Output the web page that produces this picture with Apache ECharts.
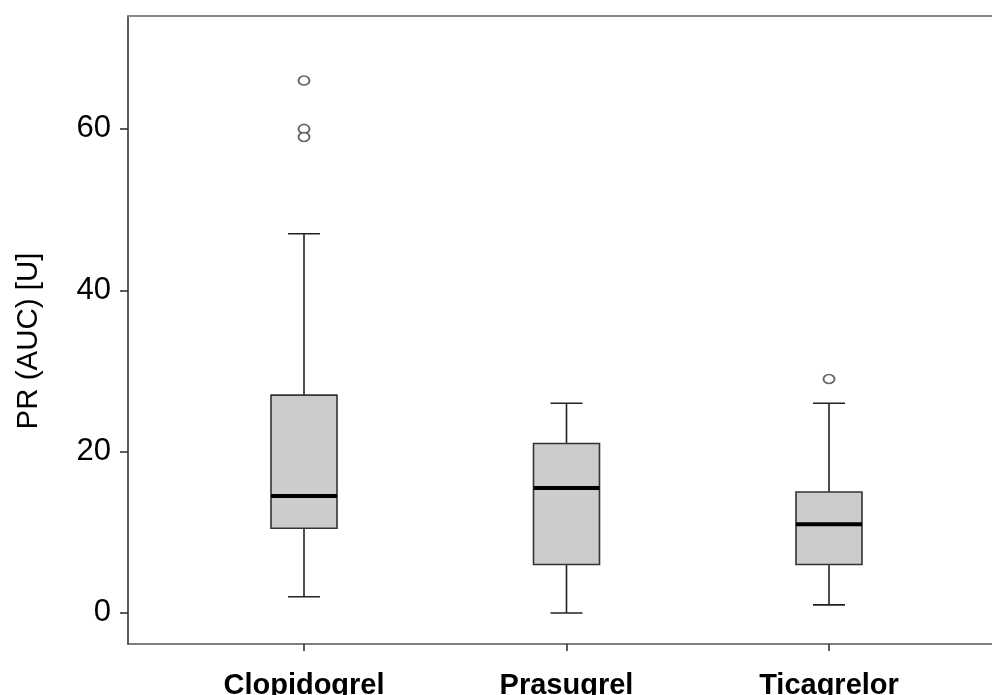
<!DOCTYPE html>
<html>
<head>
<meta charset="utf-8">
<script src="https://cdn.jsdelivr.net/npm/echarts@6/dist/echarts.min.js"></script>
<style>
  html, body { margin: 0; padding: 0; background: #fff; }
  #chart { width: 992px; height: 695px; }
</style>
</head>
<body>
<div id="chart"></div>
<script>
// Drug groups along the x axis
const categories = ['Clopidogrel', 'Prasugrel', 'Ticagrelor'];

// Box-plot summaries per group: [lower whisker, Q1, median, Q3, upper whisker]
const lowerWhisker = [2, 0, 1];
const quartile1   = [10.5, 6, 6];
const medians     = [14.5, 15.5, 11];
const quartile3   = [27, 21, 15];
const upperWhisker = [47, 26, 26];

// Outlying observations: group index (0-based) and value
const outlierGroup = [0, 0, 0, 2];
const outlierValue = [66, 60, 59, 29];

// Y axis tick values
const yTicks = [0, 20, 40, 60];

const font = '"Liberation Sans", Arial, Helvetica, sans-serif';

const boxData = categories.map((c, i) => [
  i + 1, lowerWhisker[i], quartile1[i], medians[i], quartile3[i], upperWhisker[i]
]);
const outlierData = outlierGroup.map((g, i) => [g + 1, outlierValue[i]]);

const BOX_W = 66;
const CAP_W = 32;

function renderBox(params, api) {
  const x = api.value(0);
  const pLow = api.coord([x, api.value(1)]);
  const pQ1 = api.coord([x, api.value(2)]);
  const pMed = api.coord([x, api.value(3)]);
  const pQ3 = api.coord([x, api.value(4)]);
  const pHigh = api.coord([x, api.value(5)]);
  const cx = pMed[0];
  const line = { stroke: '#222', lineWidth: 1.6 };
  return {
    type: 'group',
    children: [
      { type: 'line', shape: { x1: cx, y1: pQ3[1], x2: cx, y2: pHigh[1] }, style: line },
      { type: 'line', shape: { x1: cx, y1: pQ1[1], x2: cx, y2: pLow[1] }, style: line },
      { type: 'line', shape: { x1: cx - CAP_W / 2, y1: pHigh[1], x2: cx + CAP_W / 2, y2: pHigh[1] }, style: line },
      { type: 'line', shape: { x1: cx - CAP_W / 2, y1: pLow[1], x2: cx + CAP_W / 2, y2: pLow[1] }, style: line },
      {
        type: 'rect',
        shape: { x: cx - BOX_W / 2, y: pQ3[1], width: BOX_W, height: pQ1[1] - pQ3[1] },
        style: { fill: '#cccccc', stroke: '#333', lineWidth: 1.6 }
      },
      {
        type: 'line',
        shape: { x1: cx - BOX_W / 2, y1: pMed[1], x2: cx + BOX_W / 2, y2: pMed[1] },
        style: { stroke: '#000', lineWidth: 4 }
      }
    ]
  };
}

const chart = echarts.init(document.getElementById('chart'), null, { renderer: 'canvas' });

const xRange = { min: 0.3295, max: 3.621 };

chart.setOption({
  animation: false,
  backgroundColor: '#ffffff',
  grid: { left: 128, right: 0, top: 16, bottom: 51, outerBoundsMode: 'none', containLabel: false },
  xAxis: [
    {
      type: 'value',
      min: xRange.min,
      max: xRange.max,
      splitLine: { show: false },
      axisLine: { show: true, onZero: false, lineStyle: { color: '#555', width: 1.6 } },
      axisTick: {
        show: true, length: 7, customValues: [1, 2, 3],
        lineStyle: { color: '#333', width: 1.6 }
      },
      axisLabel: {
        customValues: [1, 2, 3],
        formatter: v => categories[Math.round(v) - 1],
        margin: 27,
        color: '#000',
        fontFamily: font,
        fontSize: 29,
        fontWeight: 'bold'
      }
    },
    {
      type: 'value',
      position: 'top',
      min: xRange.min,
      max: xRange.max,
      splitLine: { show: false },
      axisLine: { show: true, onZero: false, lineStyle: { color: '#888', width: 2 } },
      axisTick: { show: false },
      axisLabel: { show: false }
    }
  ],
  yAxis: {
    type: 'value',
    min: -3.85,
    max: 74,
    name: 'PR (AUC) [U]',
    nameLocation: 'middle',
    nameGap: 84,
    nameRotate: 90,
    nameTextStyle: { color: '#000', fontFamily: font, fontSize: 29.5, padding: [0, 22, 0, 0] },
    splitLine: { show: false },
    axisLine: { show: true, onZero: false, lineStyle: { color: '#333', width: 1.6 } },
    axisTick: { show: true, length: 8, customValues: yTicks, lineStyle: { color: '#333', width: 1.6 } },
    axisLabel: {
      customValues: yTicks,
      margin: 17,
      color: '#000',
      fontFamily: font,
      fontSize: 31
    }
  },
  series: [
    {
      type: 'custom',
      renderItem: renderBox,
      encode: { x: 0, y: [1, 2, 3, 4, 5] },
      data: boxData,
      z: 2
    },
    {
      type: 'scatter',
      data: outlierData,
      symbol: 'circle',
      symbolSize: [11, 9],
      itemStyle: { color: '#fff', borderColor: '#444', borderWidth: 1.8 },
      z: 3
    }
  ]
});
</script>
</body>
</html>
